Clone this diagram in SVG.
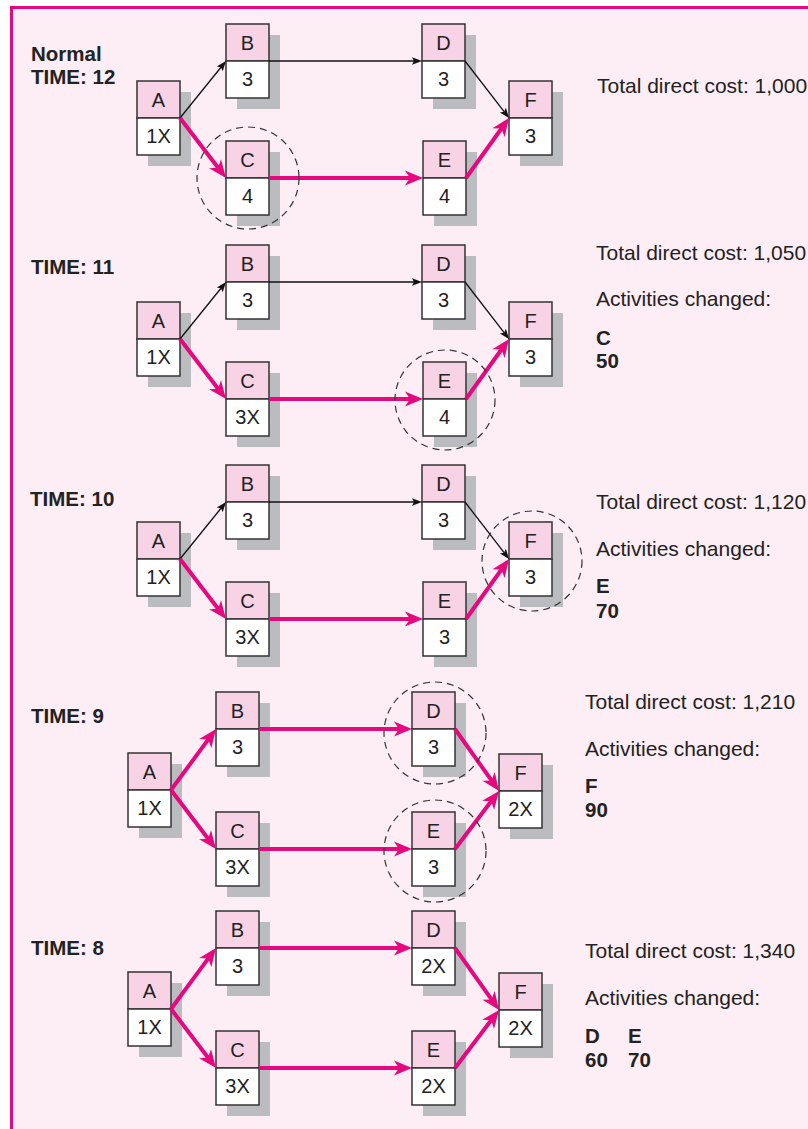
<svg xmlns="http://www.w3.org/2000/svg" width="808" height="1129" viewBox="0 0 808 1129">
<style>
.bg{fill:#FDEDF4}
.frame{fill:none;stroke:#E5087F;stroke-width:3}
.sh{fill:#BBBCC0}
.top{fill:#F8D3E5;stroke:#333;stroke-width:1.5}
.bot{fill:#FFFFFF;stroke:#333;stroke-width:1.5}
.lbl{font-family:"Liberation Sans",Arial,sans-serif;font-size:20px;fill:#222;text-anchor:middle}
.txt{font-family:"Liberation Sans",Arial,sans-serif;font-size:21px;fill:#222}
.bold{font-family:"Liberation Sans",Arial,sans-serif;font-size:20.5px;font-weight:bold;fill:#222}
.thin{fill:none;stroke:#111;stroke-width:1.3;marker-end:url(#ah-thin)}
.thick{fill:none;stroke:#E5087F;stroke-width:4;marker-end:url(#ah-thick)}
.circ{fill:none;stroke:#333;stroke-width:1.2;stroke-dasharray:7 5}
</style>
<defs>
<marker id="ah-thick" markerUnits="userSpaceOnUse" viewBox="-8 -9 22 18" refX="0" refY="0" markerWidth="22" markerHeight="18" orient="auto">
<path d="M12,0 L-6,-7.5 L-1,0 L-6,7.5 Z" fill="#E5087F"/>
</marker>
<marker id="ah-thin" markerUnits="userSpaceOnUse" viewBox="-4 -5 14 10" refX="0" refY="0" markerWidth="14" markerHeight="10" orient="auto">
<path d="M8,0 L-2,-3.8 L0,0 L-2,3.8 Z" fill="#111"/>
</marker>
</defs>
<rect x="0" y="0" width="808" height="1129" fill="#FFFFFF"/>
<rect class="bg" x="11.5" y="7.5" width="800" height="1125"/>
<path class="frame" d="M11.5,1129 L11.5,7.5 L808,7.5"/>

<!-- Panel 1: Normal TIME 12 -->
<g id="panel1">
<g id="p1-A" transform="translate(137,81)"><rect class="sh" x="11" y="11" width="43" height="74"/><rect class="top" width="43" height="37"/><rect class="bot" y="37" width="43" height="37"/><text class="lbl" x="21.5" y="26">A</text><text class="lbl" x="21.5" y="62">1X</text></g>
<g id="p1-B" transform="translate(226,24)"><rect class="sh" x="11" y="11" width="43" height="74"/><rect class="top" width="43" height="37"/><rect class="bot" y="37" width="43" height="37"/><text class="lbl" x="21.5" y="26">B</text><text class="lbl" x="21.5" y="62">3</text></g>
<g id="p1-C" transform="translate(226,141)"><rect class="sh" x="11" y="11" width="43" height="74"/><rect class="top" width="43" height="37"/><rect class="bot" y="37" width="43" height="37"/><text class="lbl" x="21.5" y="26">C</text><text class="lbl" x="21.5" y="62">4</text></g>
<g id="p1-D" transform="translate(422,24)"><rect class="sh" x="11" y="11" width="43" height="74"/><rect class="top" width="43" height="37"/><rect class="bot" y="37" width="43" height="37"/><text class="lbl" x="21.5" y="26">D</text><text class="lbl" x="21.5" y="62">3</text></g>
<g id="p1-E" transform="translate(423,141)"><rect class="sh" x="11" y="11" width="43" height="74"/><rect class="top" width="43" height="37"/><rect class="bot" y="37" width="43" height="37"/><text class="lbl" x="21.5" y="26">E</text><text class="lbl" x="21.5" y="62">4</text></g>
<g id="p1-F" transform="translate(509,81)"><rect class="sh" x="11" y="11" width="43" height="74"/><rect class="top" width="43" height="37"/><rect class="bot" y="37" width="43" height="37"/><text class="lbl" x="21.5" y="26">F</text><text class="lbl" x="21.5" y="62">3</text></g>
<g id="p1-connectors">
<path class="thin" d="M180,118 L220.98,67.22"/>
<path class="thick" d="M180,118 L218.7,168.48"/>
<path class="thin" d="M269,61 L414,61"/>
<path class="thick" d="M269,178 L411,178"/>
<path class="thin" d="M465,61 L504.11,111.67"/>
<path class="thick" d="M466,178 L502.01,127.75"/>
</g>
<circle class="circ" cx="248" cy="178" r="51"/>
</g>

<!-- Panel 2: TIME 11 -->
<g id="panel2" transform="translate(0,221)">
<g id="p2-A" transform="translate(137,81)"><rect class="sh" x="11" y="11" width="43" height="74"/><rect class="top" width="43" height="37"/><rect class="bot" y="37" width="43" height="37"/><text class="lbl" x="21.5" y="26">A</text><text class="lbl" x="21.5" y="62">1X</text></g>
<g id="p2-B" transform="translate(226,24)"><rect class="sh" x="11" y="11" width="43" height="74"/><rect class="top" width="43" height="37"/><rect class="bot" y="37" width="43" height="37"/><text class="lbl" x="21.5" y="26">B</text><text class="lbl" x="21.5" y="62">3</text></g>
<g id="p2-C" transform="translate(226,141)"><rect class="sh" x="11" y="11" width="43" height="74"/><rect class="top" width="43" height="37"/><rect class="bot" y="37" width="43" height="37"/><text class="lbl" x="21.5" y="26">C</text><text class="lbl" x="21.5" y="62">3X</text></g>
<g id="p2-D" transform="translate(422,24)"><rect class="sh" x="11" y="11" width="43" height="74"/><rect class="top" width="43" height="37"/><rect class="bot" y="37" width="43" height="37"/><text class="lbl" x="21.5" y="26">D</text><text class="lbl" x="21.5" y="62">3</text></g>
<g id="p2-E" transform="translate(423,141)"><rect class="sh" x="11" y="11" width="43" height="74"/><rect class="top" width="43" height="37"/><rect class="bot" y="37" width="43" height="37"/><text class="lbl" x="21.5" y="26">E</text><text class="lbl" x="21.5" y="62">4</text></g>
<g id="p2-F" transform="translate(509,81)"><rect class="sh" x="11" y="11" width="43" height="74"/><rect class="top" width="43" height="37"/><rect class="bot" y="37" width="43" height="37"/><text class="lbl" x="21.5" y="26">F</text><text class="lbl" x="21.5" y="62">3</text></g>
<g id="p2-connectors">
<path class="thin" d="M180,118 L220.98,67.22"/>
<path class="thick" d="M180,118 L218.7,168.48"/>
<path class="thin" d="M269,61 L414,61"/>
<path class="thick" d="M269,178 L411,178"/>
<path class="thin" d="M465,61 L504.11,111.67"/>
<path class="thick" d="M466,178 L502.01,127.75"/>
</g>
<circle class="circ" cx="445" cy="179" r="50"/>
</g>

<!-- Panel 3: TIME 10 -->
<g id="panel3" transform="translate(0,441)">
<g id="p3-A" transform="translate(137,81)"><rect class="sh" x="11" y="11" width="43" height="74"/><rect class="top" width="43" height="37"/><rect class="bot" y="37" width="43" height="37"/><text class="lbl" x="21.5" y="26">A</text><text class="lbl" x="21.5" y="62">1X</text></g>
<g id="p3-B" transform="translate(226,24)"><rect class="sh" x="11" y="11" width="43" height="74"/><rect class="top" width="43" height="37"/><rect class="bot" y="37" width="43" height="37"/><text class="lbl" x="21.5" y="26">B</text><text class="lbl" x="21.5" y="62">3</text></g>
<g id="p3-C" transform="translate(226,141)"><rect class="sh" x="11" y="11" width="43" height="74"/><rect class="top" width="43" height="37"/><rect class="bot" y="37" width="43" height="37"/><text class="lbl" x="21.5" y="26">C</text><text class="lbl" x="21.5" y="62">3X</text></g>
<g id="p3-D" transform="translate(422,24)"><rect class="sh" x="11" y="11" width="43" height="74"/><rect class="top" width="43" height="37"/><rect class="bot" y="37" width="43" height="37"/><text class="lbl" x="21.5" y="26">D</text><text class="lbl" x="21.5" y="62">3</text></g>
<g id="p3-E" transform="translate(423,141)"><rect class="sh" x="11" y="11" width="43" height="74"/><rect class="top" width="43" height="37"/><rect class="bot" y="37" width="43" height="37"/><text class="lbl" x="21.5" y="26">E</text><text class="lbl" x="21.5" y="62">3</text></g>
<g id="p3-F" transform="translate(509,81)"><rect class="sh" x="11" y="11" width="43" height="74"/><rect class="top" width="43" height="37"/><rect class="bot" y="37" width="43" height="37"/><text class="lbl" x="21.5" y="26">F</text><text class="lbl" x="21.5" y="62">3</text></g>
<g id="p3-connectors">
<path class="thin" d="M180,118 L220.98,67.22"/>
<path class="thick" d="M180,118 L218.7,168.48"/>
<path class="thin" d="M269,61 L414,61"/>
<path class="thick" d="M269,178 L411,178"/>
<path class="thin" d="M465,61 L504.11,111.67"/>
<path class="thick" d="M466,178 L502.01,127.75"/>
</g>
<circle class="circ" cx="532" cy="120" r="50"/>
</g>

<!-- Panel 4: TIME 9 -->
<g id="panel4">
<g id="p4-A" transform="translate(128,753)"><rect class="sh" x="11" y="11" width="43" height="74"/><rect class="top" width="43" height="37"/><rect class="bot" y="37" width="43" height="37"/><text class="lbl" x="21.5" y="26">A</text><text class="lbl" x="21.5" y="62">1X</text></g>
<g id="p4-B" transform="translate(216,692)"><rect class="sh" x="11" y="11" width="43" height="74"/><rect class="top" width="43" height="37"/><rect class="bot" y="37" width="43" height="37"/><text class="lbl" x="21.5" y="26">B</text><text class="lbl" x="21.5" y="62">3</text></g>
<g id="p4-C" transform="translate(216,812)"><rect class="sh" x="11" y="11" width="43" height="74"/><rect class="top" width="43" height="37"/><rect class="bot" y="37" width="43" height="37"/><text class="lbl" x="21.5" y="26">C</text><text class="lbl" x="21.5" y="62">3X</text></g>
<g id="p4-D" transform="translate(412,692)"><rect class="sh" x="11" y="11" width="43" height="74"/><rect class="top" width="43" height="37"/><rect class="bot" y="37" width="43" height="37"/><text class="lbl" x="21.5" y="26">D</text><text class="lbl" x="21.5" y="62">3</text></g>
<g id="p4-E" transform="translate(412,812)"><rect class="sh" x="11" y="11" width="43" height="74"/><rect class="top" width="43" height="37"/><rect class="bot" y="37" width="43" height="37"/><text class="lbl" x="21.5" y="26">E</text><text class="lbl" x="21.5" y="62">3</text></g>
<g id="p4-F" transform="translate(499,754)"><rect class="sh" x="11" y="11" width="43" height="74"/><rect class="top" width="43" height="37"/><rect class="bot" y="37" width="43" height="37"/><text class="lbl" x="21.5" y="26">F</text><text class="lbl" x="21.5" y="62">2X</text></g>
<g id="p4-connectors">
<path class="thick" d="M171,790 L208.88,738.66"/>
<path class="thick" d="M171,790 L208.72,839.46"/>
<path class="thick" d="M259,729 L400,729"/>
<path class="thick" d="M259,849 L400,849"/>
<path class="thick" d="M455,729 L492.06,781.21"/>
<path class="thick" d="M455,849 L491.75,800.56"/>
</g>
<circle class="circ" cx="435" cy="733" r="51"/>
<circle class="circ" cx="435" cy="851" r="51"/>
</g>

<!-- Panel 5: TIME 8 -->
<g id="panel5" transform="translate(0,219)">
<g id="p5-A" transform="translate(128,753)"><rect class="sh" x="11" y="11" width="43" height="74"/><rect class="top" width="43" height="37"/><rect class="bot" y="37" width="43" height="37"/><text class="lbl" x="21.5" y="26">A</text><text class="lbl" x="21.5" y="62">1X</text></g>
<g id="p5-B" transform="translate(216,692)"><rect class="sh" x="11" y="11" width="43" height="74"/><rect class="top" width="43" height="37"/><rect class="bot" y="37" width="43" height="37"/><text class="lbl" x="21.5" y="26">B</text><text class="lbl" x="21.5" y="62">3</text></g>
<g id="p5-C" transform="translate(216,812)"><rect class="sh" x="11" y="11" width="43" height="74"/><rect class="top" width="43" height="37"/><rect class="bot" y="37" width="43" height="37"/><text class="lbl" x="21.5" y="26">C</text><text class="lbl" x="21.5" y="62">3X</text></g>
<g id="p5-D" transform="translate(412,692)"><rect class="sh" x="11" y="11" width="43" height="74"/><rect class="top" width="43" height="37"/><rect class="bot" y="37" width="43" height="37"/><text class="lbl" x="21.5" y="26">D</text><text class="lbl" x="21.5" y="62">2X</text></g>
<g id="p5-E" transform="translate(412,812)"><rect class="sh" x="11" y="11" width="43" height="74"/><rect class="top" width="43" height="37"/><rect class="bot" y="37" width="43" height="37"/><text class="lbl" x="21.5" y="26">E</text><text class="lbl" x="21.5" y="62">2X</text></g>
<g id="p5-F" transform="translate(499,754)"><rect class="sh" x="11" y="11" width="43" height="74"/><rect class="top" width="43" height="37"/><rect class="bot" y="37" width="43" height="37"/><text class="lbl" x="21.5" y="26">F</text><text class="lbl" x="21.5" y="62">2X</text></g>
<g id="p5-connectors">
<path class="thick" d="M171,790 L208.88,738.66"/>
<path class="thick" d="M171,790 L208.72,839.46"/>
<path class="thick" d="M259,729 L400,729"/>
<path class="thick" d="M259,849 L400,849"/>
<path class="thick" d="M455,729 L492.06,781.21"/>
<path class="thick" d="M455,849 L491.75,800.56"/>
</g>
</g>

<!-- Labels -->
<g id="labels">
<text class="bold" x="31" y="61">Normal</text>
<text class="bold" x="31" y="84">TIME: 12</text>
<text class="txt" x="597" y="93">Total direct cost: 1,000</text>

<text class="bold" x="31" y="274">TIME: 11</text>
<text class="txt" x="596" y="260">Total direct cost: 1,050</text>
<text class="txt" x="596" y="306">Activities changed:</text>
<text class="bold" x="596" y="345">C</text>
<text class="bold" x="596" y="368">50</text>

<text class="bold" x="30" y="506">TIME: 10</text>
<text class="txt" x="596" y="509">Total direct cost: 1,120</text>
<text class="txt" x="596" y="556">Activities changed:</text>
<text class="bold" x="596" y="593">E</text>
<text class="bold" x="596" y="618">70</text>

<text class="bold" x="31" y="723">TIME: 9</text>
<text class="txt" x="585" y="709">Total direct cost: 1,210</text>
<text class="txt" x="585" y="756">Activities changed:</text>
<text class="bold" x="585" y="793">F</text>
<text class="bold" x="585" y="817">90</text>

<text class="bold" x="31" y="955">TIME: 8</text>
<text class="txt" x="585" y="958">Total direct cost: 1,340</text>
<text class="txt" x="585" y="1005">Activities changed:</text>
<text class="bold" x="585" y="1043">D</text>
<text class="bold" x="628" y="1043">E</text>
<text class="bold" x="585" y="1067">60</text>
<text class="bold" x="628" y="1067">70</text>
</g>
</svg>
